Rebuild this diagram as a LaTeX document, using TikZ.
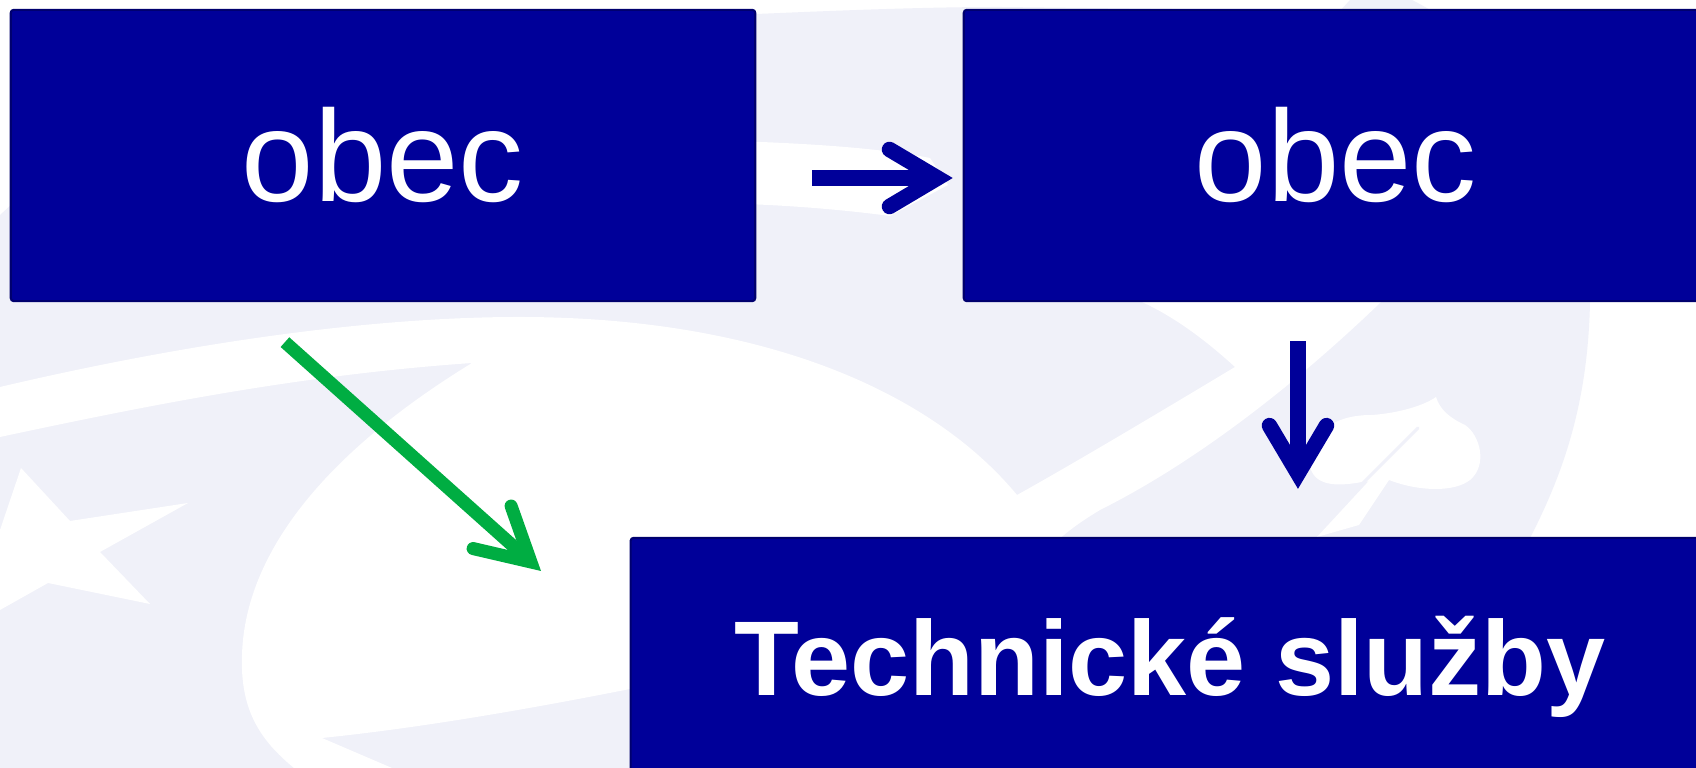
\documentclass[tikz,border=0pt]{standalone}
\usepackage{fontspec}
\setmainfont{Liberation Sans}
\usetikzlibrary{arrows.meta}
\definecolor{xanhdam}{RGB}{0,0,153}
\definecolor{vien}{RGB}{0,0,110}
\definecolor{nen}{RGB}{240,241,249}
\definecolor{xanhla}{RGB}{0,173,66}
\begin{document}
\begin{tikzpicture}[x=0.01cm,y=-0.01cm,line join = round, line cap = round,
		hop/.style={draw=vien,line width=0.6pt,fill=xanhdam,rounded corners=0.8pt,text=white,inner sep=0pt,
			minimum width=7.44cm,minimum height=2.91cm,font=\fontsize{37}{44}\selectfont},
		mtlam/.style={draw=xanhdam,line width=0.155cm,line cap=butt,
			-{Straight Barb[length=0.48cm,width=0.57cm,line cap=round,line join=miter]}},
		mtxanh/.style={draw=xanhla,line width=0.13cm,line cap=butt,
			-{Straight Barb[length=0.52cm,width=0.57cm,line cap=round,line join=miter]}}]
	\fill[white] (0,0) rectangle (1696,768);
	\useasboundingbox (0,0) rectangle (1696,768);
	% nền mờ phía sau
	\fill[nen] (0,768)--(0,215)--(11,205)--(11,14)--(757,14) .. controls (850,10) and (930,7) .. (1000,7)--(1340,11)--(1350,0)--(1412,0)
		.. controls (1530,60) and (1592,180) .. (1590,302) .. controls (1588,400) and (1565,470) .. (1530,538)--(1470,768)--cycle;
	\fill[white] (0,387) .. controls (200,340) and (380,317) .. (519,317) .. controls (760,317) and (930,390) .. (1017,495)
		--(1075,620)--(640,687) .. controls (500,715) and (400,730) .. (322,738)--(392,768)--(294,768)
		.. controls (260,740) and (240,710) .. (242,655) .. controls (245,550) and (330,450) .. (472,363)
		.. controls (300,375) and (150,405) .. (0,437)--cycle;
	\fill[white] (690,140) .. controls (800,142) and (880,148) .. (930,158)--(948,185)--(890,216) .. controls (830,208) and (760,203) .. (690,203)--cycle;
	\fill[white] (1130,290)--(1400,290)--(1381,302) .. controls (1300,380) and (1200,460) .. (1100,510) .. controls (1075,525) and (1055,540) .. (1040,560)
		--(1000,560)--(1017,495) .. controls (1080,460) and (1180,400) .. (1235,367) .. controls (1200,335) and (1170,315) .. (1142,302)--cycle;
	\fill[white] (1313,440) .. controls (1330,420) and (1350,415) .. (1372,415) .. controls (1400,413) and (1425,405) .. (1436,397)
		.. controls (1440,410) and (1450,418) .. (1465,425) .. controls (1480,435) and (1488,465) .. (1470,480)
		.. controls (1455,492) and (1420,492) .. (1389,480)--(1362,482) .. controls (1340,486) and (1318,487) .. (1311,470)--cycle;
	\fill[white] (1317,537)--(1416,430)--(1389,480)--(1359,525)--cycle;
	\draw[nen,line width=0.03cm] (1418,428)--(1360,486);
	\fill[white] (0,530)--(21,468)--(70,521)--(188,503)--(100,552)--(150,604)--(48,583)--(0,610)--cycle;
	% các hộp
	\foreach \t/\x in {O1/383,O2/1336}
	{\node[hop] (\t) at (\x,155.5) {obec};}
	\node[hop,minimum width=10.78cm,minimum height=2.58cm,font=\fontsize{30.2}{36}\selectfont\bfseries] (TS) at (1170,667) {Technické služby};
	% các mũi tên
	\coordinate (D) at ([xshift=-0.38cm]O2.south);
	\coordinate (G) at (541,571);
	\draw[mtlam,shorten <=0.56cm,shorten >=0.1cm] ([yshift=-0.225cm]O1.east)--([yshift=-0.225cm]O2.west);
	\draw[mtlam,shorten <=0.39cm,shorten >=0.48cm] (D)--(D |- TS.north);
	\draw[mtxanh] ([xshift=-0.98cm,yshift=-0.4cm]O1.south)--(G);
\end{tikzpicture}
\end{document}
